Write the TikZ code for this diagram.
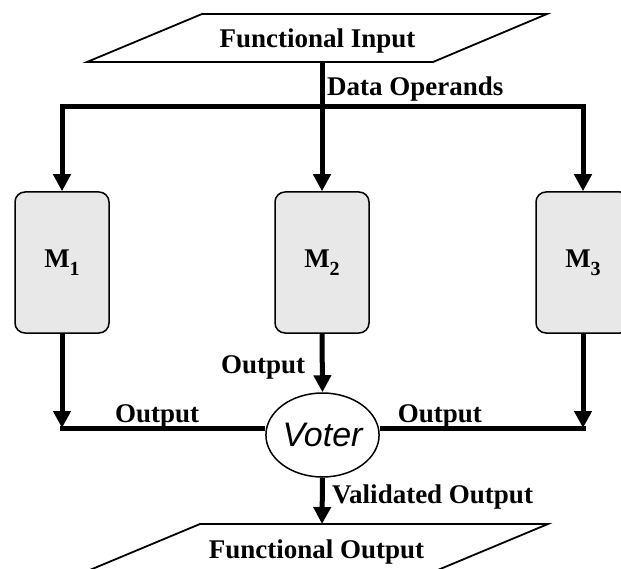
\documentclass[tikz,border=0pt]{standalone}
\usepackage{fontspec}
\setmainfont{Liberation Serif}
\newfontfamily\voterfont{Liberation Sans}
\usetikzlibrary{arrows.meta,shapes.geometric}
\definecolor{boxgray}{HTML}{E8E8E8}
\newcommand\modlabel[1]{M\raisebox{-8pt}{\fontsize{20}{20}\selectfont #1}}
\begin{document}
\begin{tikzpicture}[x=1pt,y=-1pt,
  lbl/.style={font=\fontsize{27}{27}\selectfont\bfseries, inner sep=0pt},
  iobox/.style={draw, line width=1.8pt, line join=miter},
  modbox/.style={draw, line width=1.5pt, fill=boxgray, rounded corners=10pt,
    minimum width=94pt, minimum height=141pt, inner sep=0pt,
    font=\fontsize{27}{27}\selectfont\bfseries},
  voterbox/.style={draw, ellipse, line width=1.5pt, fill=white,
    minimum width=95pt, minimum height=84pt, inner sep=0pt,
    font=\voterfont\itshape\fontsize{34}{34}\selectfont},
  conn/.style={line width=5pt, line join=miter, -{Triangle[length=17pt,width=17pt]}},
  wire/.style={line width=5pt, line join=miter}
]
\useasboundingbox (0,0) rectangle (621,569);
\clip (0,0) rectangle (621,569);

% input and output parallelograms
\draw[iobox] (87,62) -- (202,14) -- (547,14) -- (433,62) -- cycle;
\node[lbl, anchor=base] (fin) at (317.5,48) {Functional Input};
\coordinate (inB) at (322,62);

\draw[iobox] (85,572) -- (200,524) -- (548,524) -- (433,572) -- cycle;
\node[lbl, anchor=base] (fout) at (316.5,558) {Functional Output};
\coordinate (outT) at (322,524);

% redundant modules
\node[modbox] (m1) at (62,262.5) {\modlabel{1}};
\node[modbox] (m2) at (322,262.5) {\modlabel{2}};
\node[modbox] (m3) at (583,262.5) {\modlabel{3}};

% voter
\node[voterbox] (v) at (322.5,435) {Voter};

% operand distribution
\coordinate (sp) at (322,107);
\draw[conn] (inB) -- (m2.north);
\draw[conn] (sp) -| (m1.north);
\draw[conn] (sp) -| (m3.north);
\node[lbl, anchor=base west] (dop) at (327,96) {Data Operands};

% module outputs into the voter
\coordinate (jl) at (62,428);
\coordinate (jr) at (583,428);
\draw[conn] (m1.south) -- (jl);
\draw[wire] ([xshift=-2.5pt]jl) -- (jl -| v.west);
\draw[conn] (m3.south) -- (jr);
\draw[wire] ([xshift=2.5pt]jr) -- (jr -| v.east);
\draw[conn] (m2.south) -- (v.north);
\node[lbl, anchor=base west] (o1) at (115,422) {Output};
\node[lbl, anchor=base west] (o2) at (221,373) {Output};
\node[lbl, anchor=base east] (o3) at (482,422) {Output};

% validated result
\draw[conn] (v.south) -- (outT);
\node[lbl, anchor=base west] (vo) at (332,503) {Validated Output};
\end{tikzpicture}
\end{document}
